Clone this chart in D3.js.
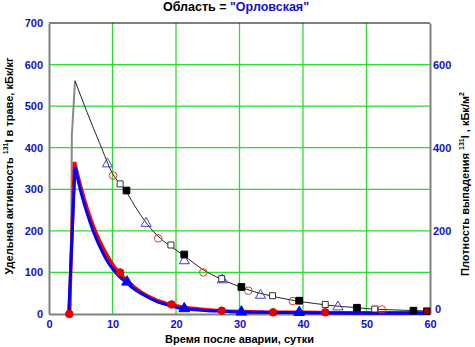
<!DOCTYPE html>
<html>
<head>
<meta charset="utf-8">
<script src="https://cdn.jsdelivr.net/npm/d3@7"></script>
<style>
	body { margin: 0; background: #fff; }
	text { font-family: "Liberation Sans", Arial, sans-serif; font-weight: bold; }
</style>
</head>
<body>
<svg id="chart" width="475" height="347"></svg>
<script>
// ticks
const xTicks = [0, 10, 20, 30, 40, 50, 60];
const yLeftTicks = [0, 100, 200, 300, 400, 500, 600, 700];
const yRightTicks = [0, 200, 400, 600];

// thin curve (deposition), [day, value]
const riseBlack = [[3.4, 0], [3.6, 430], [4.1, 561]];
const fallBlack = [[4.1, 561], [6, 485], [8, 410], [10, 338], [12, 298], [14, 248], [16, 206],
	[18, 176], [20, 154], [22, 132], [24, 109], [26, 92], [28, 78], [30, 66], [32, 55],
	[34, 47], [36, 40], [38, 34], [40, 29], [42, 25], [44, 21], [46, 18], [48, 16],
	[50, 13], [52, 11], [54, 10], [56, 9], [58, 8], [60, 7]];

// thick curves (grass)
const redCurve = [[3.2, 0], [4.0, 366], [5, 306], [6, 254], [7, 211], [8, 175], [9, 145],
	[10, 120], [11, 100], [12, 84], [13, 70], [14, 58], [15, 48], [16, 40], [17, 33],
	[18, 28], [19, 23], [21, 17], [23, 13], [25, 10], [27, 8], [30, 6], [35, 4], [40, 4],
	[45, 3], [50, 3], [55, 3], [60, 3]];
const blueCurve = [[3.1, 0], [4.1, 354], [5, 295], [6, 242], [7, 198], [8, 162], [9, 132],
	[10, 109], [11, 91], [12, 78], [13, 65], [14, 54], [15, 45], [16, 37], [17, 30],
	[18, 25], [19, 20], [20, 16], [21, 13], [23, 10], [25, 8], [27, 7], [30, 5], [35, 4],
	[40, 3], [50, 2], [60, 2]];

// markers
const openTri = [[9.2, 361], [15.3, 218], [21.3, 128], [27.3, 82], [33.3, 45], [45.5, 17]];
const openCircle = [[10.1, 333], [17.2, 182], [24.3, 100], [31.4, 56], [38.4, 31], [52.4, 11]];
const openSquare = [[11.2, 313], [19.2, 166], [27.2, 85], [35.2, 44], [43.5, 23], [51.3, 12]];
const filledSquare = [[12.2, 297], [21.3, 143], [30.3, 65], [39.4, 32], [48.5, 15], [57.4, 8]];
const filledCircle = [[3.2, 0], [11.2, 100], [19.3, 23], [27.2, 8], [35.3, 4], [43.5, 4]];
const filledTri = [[12.3, 77], [21.3, 13], [30.3, 5], [39.4, 4]];
const redSquare = [[59.5, 7]];

var svg = d3.select("#chart"),
	margin = { top: 23, right: 45, bottom: 33, left: 49 },
	width = +svg.attr("width") - margin.left - margin.right,
	height = +svg.attr("height") - margin.top - margin.bottom;

var x = d3.scaleLinear().domain([0, 60]).range([0, width]),
	y = d3.scaleLinear().domain([0, 700]).range([height, 0]),
	y2 = d3.scaleLinear().domain([0, 700]).range([height, 0]);

var g = svg.append("g")
	.attr("transform", "translate(" + margin.left + "," + margin.top + ")");

// grid
g.append("g").selectAll("line")
	.data(xTicks.slice(1, -1))
	.enter().append("line")
	.attr("x1", d => x(d)).attr("x2", d => x(d))
	.attr("y1", 0).attr("y2", height)
	.attr("stroke", "#2bdc2b").attr("stroke-width", 1.3);
g.append("g").selectAll("line")
	.data(yLeftTicks.slice(1, -1))
	.enter().append("line")
	.attr("x1", 0).attr("x2", width)
	.attr("y1", d => y(d)).attr("y2", d => y(d))
	.attr("stroke", "#2bdc2b").attr("stroke-width", 1.3);

// frame
g.append("line").attr("x1", 0).attr("x2", width).attr("y1", 0).attr("y2", 0)
	.attr("stroke", "#000").attr("stroke-width", 1);

// axes
var xAxis = g.append("g")
	.attr("transform", "translate(0," + height + ")")
	.call(d3.axisBottom(x).tickValues(xTicks).tickSize(0).tickPadding(6));
var yAxis = g.append("g")
	.call(d3.axisLeft(y).tickValues(yLeftTicks).tickSize(0).tickPadding(6));
var yAxis2 = g.append("g")
	.attr("transform", "translate(" + width + ",0)")
	.call(d3.axisRight(y2).tickValues(yRightTicks).tickSize(0).tickPadding(3));

[xAxis, yAxis, yAxis2].forEach(a => {
	a.select(".domain").attr("stroke", "#808080").attr("stroke-width", 2);
	a.selectAll("text").attr("fill", "#1010d0").attr("font-size", 11)
		.attr("font-family", "Liberation Sans, Arial, sans-serif").attr("font-weight", "bold");
});
// right "0" sits a little above the corner, as in the original
yAxis2.selectAll(".tick").filter(d => d === 0).select("text").attr("dy", "-0.15em").attr("x", 5);

// lines
var line = d3.line().x(d => x(d[0])).y(d => y(d[1]));
var curve = d3.line().x(d => x(d[0])).y(d => y(d[1])).curve(d3.curveMonotoneX);

g.append("path").datum(riseBlack).attr("d", line)
	.attr("fill", "none").attr("stroke", "#888").attr("stroke-width", 2);
g.append("path").datum(fallBlack).attr("d", curve)
	.attr("fill", "none").attr("stroke", "#222").attr("stroke-width", 1);

g.append("path").datum(redCurve.slice(0, 2)).attr("d", line)
	.attr("fill", "none").attr("stroke", "#ff0000").attr("stroke-width", 3.5);
g.append("path").datum(redCurve.slice(1)).attr("d", curve)
	.attr("fill", "none").attr("stroke", "#ff0000").attr("stroke-width", 3.5);
g.append("path").datum(blueCurve.slice(0, 2)).attr("d", line)
	.attr("fill", "none").attr("stroke", "#0000ff").attr("stroke-width", 3);
g.append("path").datum(blueCurve.slice(1)).attr("d", curve)
	.attr("fill", "none").attr("stroke", "#0000ff").attr("stroke-width", 3);

// markers
function markers(data, type, size, fill, stroke) {
	g.append("g").selectAll("path")
		.data(data)
		.enter().append("path")
		.attr("transform", d => "translate(" + x(d[0]) + "," + y(d[1]) + ")")
		.attr("d", d3.symbol().type(type).size(size))
		.attr("fill", fill)
		.attr("stroke", stroke)
		.attr("stroke-width", 1);
}
markers(openTri, d3.symbolTriangle, 45, "none", "#4040d0");
markers(openCircle, d3.symbolCircle, 45, "none", "#e04020");
markers(openSquare, d3.symbolSquare, 36, "#fff", "#333");
markers(filledSquare, d3.symbolSquare, 45, "#000", "#000");
markers(filledCircle, d3.symbolCircle, 45, "#e00000", "#e00000");
markers(filledTri, d3.symbolTriangle, 50, "#0000ff", "#0000ff");
markers(redSquare, d3.symbolSquare, 40, "#a00000", "#000");

// title
var title = svg.append("text")
	.attr("x", 236).attr("y", 11)
	.attr("text-anchor", "middle").attr("font-size", 12.5);
title.append("tspan").attr("fill", "#000").text("Область = ");
title.append("tspan").attr("fill", "#1010d0").text("\"Орловская\"");

// axis titles
svg.append("text")
	.attr("x", margin.left + width / 2).attr("y", 343)
	.attr("text-anchor", "middle").attr("font-size", 11).attr("fill", "#000")
	.text("Время после аварии, сутки");

var yl = svg.append("text")
	.attr("transform", "translate(13,166) rotate(-90)")
	.attr("text-anchor", "middle").attr("font-size", 11).attr("fill", "#000");
yl.append("tspan").text("Удельная активность ");
yl.append("tspan").attr("font-size", 7).attr("dy", -5).text("131");
yl.append("tspan").attr("dy", 5).text("I  в траве, кБк/кг");

var yr = svg.append("text")
	.attr("transform", "translate(469,184) rotate(-90)")
	.attr("text-anchor", "middle").attr("font-size", 11).attr("fill", "#000");
yr.append("tspan").text("Плотность выпадения ");
yr.append("tspan").attr("font-size", 7).attr("dy", -5).text("131");
yr.append("tspan").attr("dy", 5).text("I , кБк/м");
yr.append("tspan").attr("font-size", 7).attr("dy", -5).text("2");
</script>
</body>
</html>
